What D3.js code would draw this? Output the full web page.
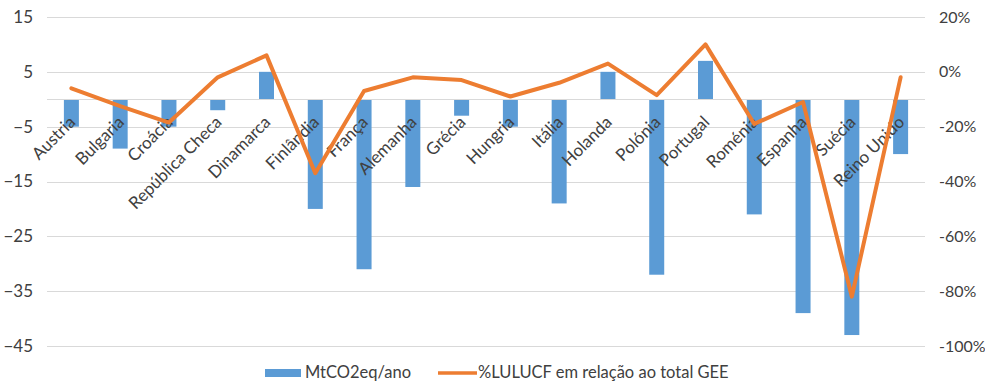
<!DOCTYPE html>
<html>
<head>
<meta charset="utf-8">
<script src="https://cdn.jsdelivr.net/npm/d3@7"></script>
<style>
  html, body { margin: 0; padding: 0; background: #fff; }
  svg { display: block; }
  text { font-family: Lato, "Open Sans", sans-serif; fill: #404040; }
</style>
</head>
<body>
<div id="chart"></div>
<script>
// Country categories
const countries = ["Austria", "Bulgaria", "Croácia", "República Checa", "Dinamarca", "Finlândia",
  "França", "Alemanha", "Grécia", "Hungria", "Itália", "Holanda", "Polónia", "Portugal",
  "Roménia", "Espanha", "Suécia", "Reino Unido"];

// LULUCF net emissions/removals, MtCO2eq per year (left axis)
const mtco2 = [-5, -9, -5, -2, 5, -20, -31, -16, -3, -5, -19, 5, -32, 7, -21, -39, -43, -10];

// LULUCF share relative to total GHG emissions, % (right axis)
const lulucfPct = [-6, -12.5, -18.5, -2, 6, -37, -7, -2, -3, -9, -4, 3, -8.5, 10, -19, -11, -82, -2];

// Axis ticks
const leftTicks = [15, 5, -5, -15, -25, -35, -45];
const rightTicks = [20, 0, -20, -40, -60, -80, -100];

const seriesNames = ["MtCO2eq/ano", "%LULUCF em relação ao total GEE"];

const W = 985, H = 382;
const plot = { left: 47, right: 925, top: 17, bottom: 346 };
const blue = "#5B9BD5", orange = "#ED7D31";

const svg = d3.select("#chart").append("svg").attr("width", W).attr("height", H);

const x = d3.scaleBand().domain(countries).range([plot.left, plot.right]).paddingInner(0).paddingOuter(0);
const yL = d3.scaleLinear().domain([-45, 15]).range([plot.bottom, plot.top]);
const yR = d3.scaleLinear().domain([-100, 20]).range([plot.bottom, plot.top]);

// Horizontal gridlines
svg.append("g").selectAll("line").data(leftTicks).join("line")
  .attr("x1", plot.left).attr("x2", plot.right)
  .attr("y1", d => Math.round(yL(d)) + 0.5).attr("y2", d => Math.round(yL(d)) + 0.5)
  .attr("stroke", "#d9d9d9").attr("stroke-width", 1);

// Left axis labels
const axL = d3.axisLeft(yL).tickValues(leftTicks).tickSize(0).tickPadding(0).tickFormat(d3.format("d"));
const gL = svg.append("g").attr("transform", `translate(${plot.left - 14},0)`).call(axL);
gL.select(".domain").remove();
gL.selectAll("text").style("font-size", "17px").style("font-family", "Lato, sans-serif").attr("fill", "#404040");

// Right axis labels
const axR = d3.axisRight(yR).tickValues(rightTicks).tickSize(0).tickPadding(0).tickFormat(d => d + "%");
const gR = svg.append("g").attr("transform", `translate(${plot.right + 14},0)`).call(axR);
gR.select(".domain").remove();
gR.selectAll("text").style("font-size", "16px").style("font-family", "Lato, sans-serif").attr("fill", "#404040");

// Bars
const barW = 15;
svg.append("g").selectAll("rect").data(countries).join("rect")
  .attr("x", d => x(d) + x.bandwidth() / 2 - barW / 2)
  .attr("width", barW)
  .attr("y", (d, i) => Math.min(yL(0), yL(mtco2[i])))
  .attr("height", (d, i) => Math.abs(yL(mtco2[i]) - yL(0)))
  .attr("fill", blue);

// Category axis line at zero
svg.append("line")
  .attr("x1", plot.left).attr("x2", plot.right)
  .attr("y1", Math.round(yL(0)) + 0.5).attr("y2", Math.round(yL(0)) + 0.5)
  .attr("stroke", "#d9d9d9").attr("stroke-width", 1);

// Category labels, rotated
svg.append("g").selectAll("text").data(countries).join("text")
  .attr("transform", d => `translate(${x(d) + x.bandwidth() / 2 + 5},${yL(0) + 24}) rotate(-45)`)
  .attr("text-anchor", "end")
  .style("font-size", "17px")
  .text(d => d);

// Percentage line
const line = d3.line()
  .x((d, i) => x(countries[i]) + x.bandwidth() / 2)
  .y(d => yR(d));
svg.append("path").datum(lulucfPct)
  .attr("d", line)
  .attr("fill", "none").attr("stroke", orange).attr("stroke-width", 4)
  .attr("stroke-linejoin", "round").attr("stroke-linecap", "round");

// Legend
const lg = svg.append("g");
lg.append("rect").attr("x", 265).attr("y", 369).attr("width", 36).attr("height", 8).attr("fill", blue);
lg.append("text").attr("x", 305).attr("y", 378).style("font-size", "16.5px").text(seriesNames[0]);
lg.append("line").attr("x1", 438).attr("x2", 477).attr("y1", 373).attr("y2", 373)
  .attr("stroke", orange).attr("stroke-width", 3.5);
lg.append("text").attr("x", 478).attr("y", 378).style("font-size", "16.5px").text(seriesNames[1]);
</script>
</body>
</html>
